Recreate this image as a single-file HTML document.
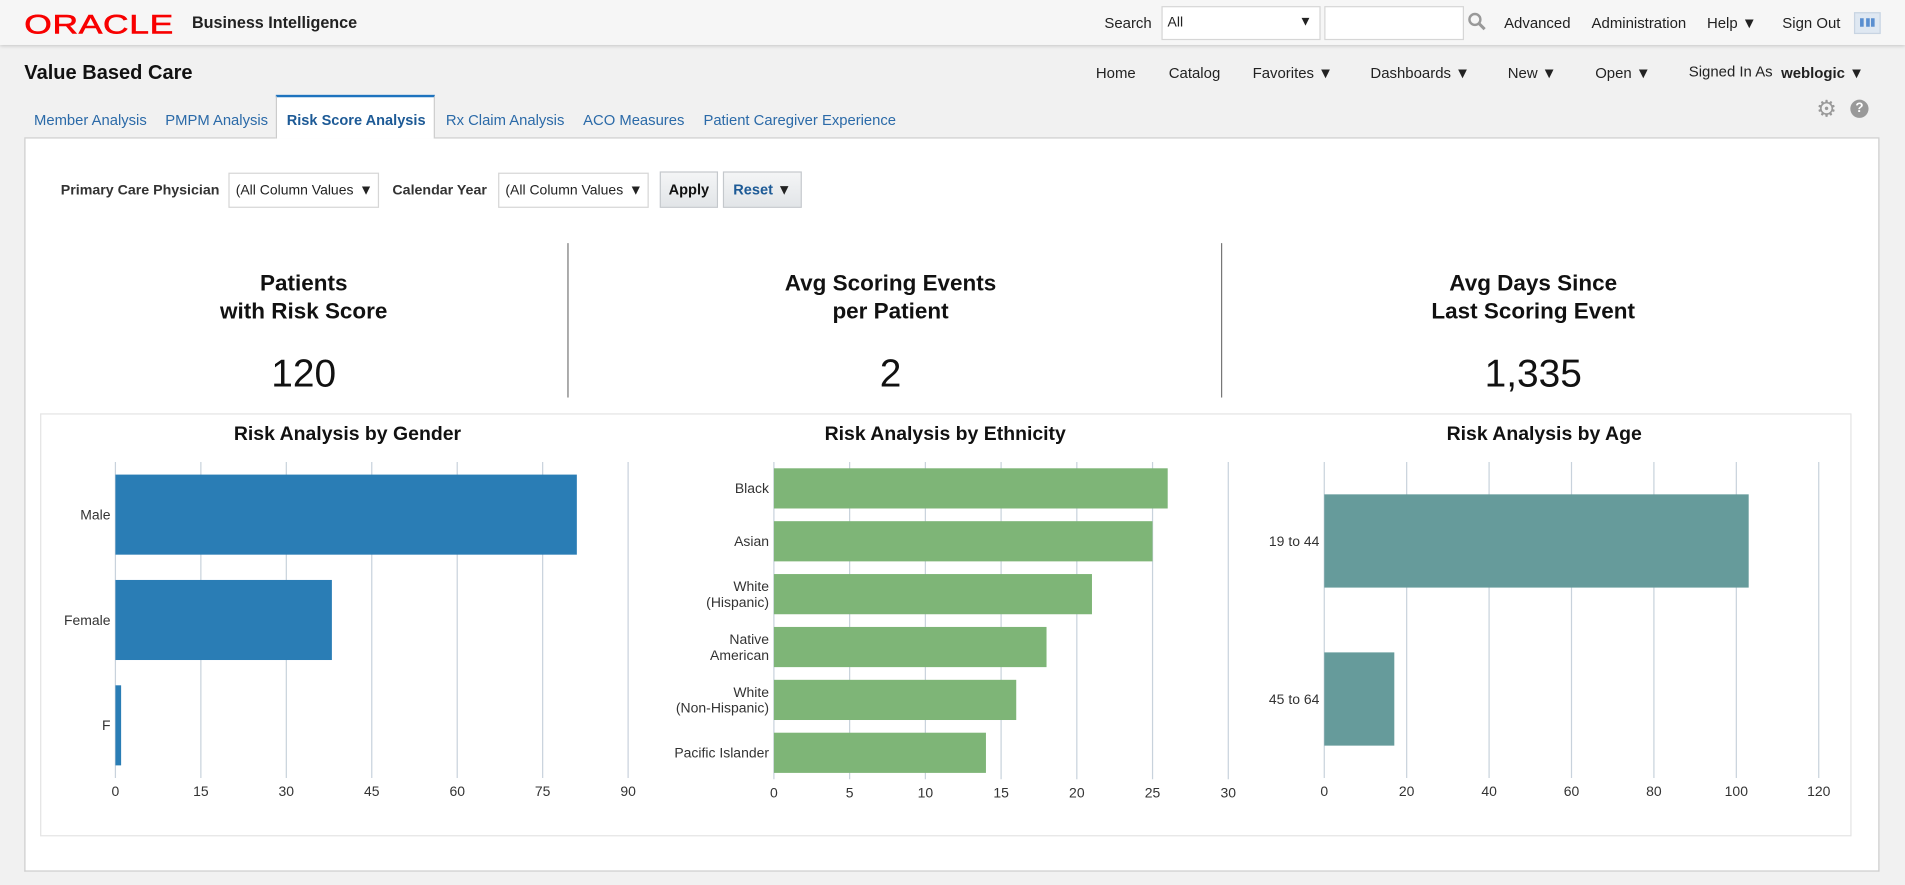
<!DOCTYPE html>
<html><head><meta charset="utf-8">
<style>
html,body{margin:0;padding:0;width:1905px;height:885px;overflow:hidden;background:#f2f2f2;font-family:"Liberation Sans",Arial,sans-serif;}
#wrap{position:absolute;left:0;top:0;width:1568px;height:728px;transform:scale(1.21492,1.21566);transform-origin:0 0;background:#f1f1f1;}
.abs{position:absolute;white-space:nowrap;}
.hdr{position:absolute;left:0;top:0;width:1568px;height:37px;background:#f6f6f6;box-shadow:0 1px 3px rgba(0,0,0,0.18);}
.t13{font-size:12.3px;color:#222;}
.tab{position:absolute;top:92px;font-size:12.2px;color:#2b6aa8;}
.sel{position:absolute;background:#fff;border:1px solid #d6d6d6;font-size:11.5px;color:#222;}
.kt{position:absolute;width:400px;text-align:center;font-weight:bold;font-size:18.5px;color:#111;line-height:23px;}
.kn{position:absolute;width:400px;text-align:center;font-size:32px;color:#111;}
.ct{position:absolute;font-weight:bold;font-size:16px;color:#111;width:400px;text-align:center;}
</style></head><body>
<div id="wrap">
<div class="hdr"></div>
<div class="abs" style="left:20px;top:5px;font-size:26px;color:#f80000;letter-spacing:0.5px;-webkit-text-stroke:0.6px #f80000;transform:scale(1.12,0.85);transform-origin:0 50%;">ORACLE</div>
<div class="abs" style="left:158px;top:11px;font-size:13.3px;font-weight:bold;color:#222;">Business Intelligence</div>
<div class="abs t13" style="left:909px;top:12px;">Search</div>
<div class="sel" style="left:956px;top:5px;width:129px;height:26px;"><span style="position:absolute;left:4px;top:7px;">All</span><span style="position:absolute;right:6px;top:6px;font-size:11px;">▼</span></div>
<div class="sel" style="left:1090px;top:5px;width:113px;height:26px;"></div>
<svg class="abs" style="left:1208px;top:10px" width="16" height="16"><circle cx="6" cy="6" r="4.5" stroke="#999" stroke-width="2" fill="none"/><line x1="9" y1="9" x2="14" y2="14" stroke="#999" stroke-width="2.5"/></svg>
<div class="abs t13" style="left:1238px;top:12px;">Advanced</div>
<div class="abs t13" style="left:1310px;top:12px;">Administration</div>
<div class="abs t13" style="left:1405px;top:12px;">Help ▼</div>
<div class="abs t13" style="left:1467px;top:12px;">Sign Out</div>
<div class="abs" style="left:1526px;top:10px;width:20px;height:16px;background:#dfe8f2;border:1px solid #c8d4e2;"><div style="position:absolute;left:4px;top:4px;width:12px;height:7px;border-left:3px solid #5a8fd0;border-right:3px solid #5a8fd0;box-sizing:border-box;"></div><div style="position:absolute;left:9px;top:4px;width:3px;height:7px;background:#5a8fd0;"></div></div>

<div class="abs" style="left:20px;top:51px;font-size:16.5px;font-weight:bold;color:#111;">Value Based Care</div>
<div class="abs t13" style="left:902px;top:53px;">Home</div>
<div class="abs t13" style="left:962px;top:53px;">Catalog</div>
<div class="abs t13" style="left:1031px;top:53px;">Favorites ▼</div>
<div class="abs t13" style="left:1128px;top:53px;">Dashboards ▼</div>
<div class="abs t13" style="left:1241px;top:53px;">New ▼</div>
<div class="abs t13" style="left:1313px;top:53px;">Open ▼</div>
<div class="abs t13" style="left:1390px;top:52px;">Signed In As</div>
<div class="abs t13" style="left:1466px;top:53px;font-weight:bold;">weblogic ▼</div>

<div class="abs" style="left:20px;top:113px;width:1527px;height:1px;background:#ccc;"></div>
<div class="abs" style="left:227px;top:78px;width:131px;height:36px;background:#fff;border:1px solid #ccc;border-bottom:none;border-top:2px solid #1e73be;box-sizing:border-box;"></div>
<div class="tab" style="left:28px;">Member Analysis</div>
<div class="tab" style="left:136px;">PMPM Analysis</div>
<div class="tab" style="left:236px;font-weight:bold;color:#1d5a96;font-size:12px;">Risk Score Analysis</div>
<div class="tab" style="left:367px;">Rx Claim Analysis</div>
<div class="tab" style="left:480px;">ACO Measures</div>
<div class="tab" style="left:579px;">Patient Caregiver Experience</div>
<div class="abs" style="left:1495px;top:79px;font-size:19px;color:#999;">⚙</div>
<div class="abs" style="left:1523px;top:82px;width:15px;height:15px;border-radius:50%;background:#999;color:#fff;font-size:11px;font-weight:bold;text-align:center;line-height:15px;">?</div>

<div class="abs" style="left:20px;top:114px;width:1527px;height:603px;background:#fff;border:1px solid #ccc;border-top:none;box-sizing:border-box;"></div>

<div class="abs" style="left:50px;top:150px;font-size:11.7px;font-weight:bold;color:#333;">Primary Care Physician</div>
<div class="sel" style="left:188px;top:142px;width:124px;height:29px;box-sizing:border-box;"><span style="position:absolute;left:5px;top:8px;">(All Column Values</span><span style="position:absolute;right:4px;top:8px;">▼</span></div>
<div class="abs" style="left:323px;top:150px;font-size:11.7px;font-weight:bold;color:#333;">Calendar Year</div>
<div class="sel" style="left:410px;top:142px;width:124px;height:29px;box-sizing:border-box;"><span style="position:absolute;left:5px;top:8px;">(All Column Values</span><span style="position:absolute;right:4px;top:8px;">▼</span></div>
<div class="abs" style="left:543px;top:141px;width:48px;height:30px;box-sizing:border-box;border:1px solid #c4c8cc;background:linear-gradient(#f4f5f6,#e2e5e8);font-size:12px;font-weight:bold;color:#111;text-align:center;line-height:28px;">Apply</div>
<div class="abs" style="left:595px;top:141px;width:65px;height:30px;box-sizing:border-box;border:1px solid #c4c8cc;background:linear-gradient(#f4f5f6,#e2e5e8);font-size:12px;font-weight:bold;color:#1d5a96;text-align:center;line-height:28px;">Reset <span style="color:#222">▼</span></div>

<div class="kt" style="left:50px;top:221px;">Patients<br>with Risk Score</div>
<div class="kn" style="left:50px;top:289px;">120</div>
<div class="abs" style="left:467px;top:200px;width:1px;height:127px;background:#777;"></div>
<div class="kt" style="left:533px;top:221px;">Avg Scoring Events<br>per Patient</div>
<div class="kn" style="left:533px;top:289px;">2</div>
<div class="abs" style="left:1005px;top:200px;width:1px;height:127px;background:#777;"></div>
<div class="kt" style="left:1062px;top:221px;">Avg Days Since<br>Last Scoring Event</div>
<div class="kn" style="left:1062px;top:289px;">1,335</div>

<div class="abs" style="left:33px;top:340px;width:1491px;height:348px;border:1px solid #e4e4e4;box-sizing:border-box;"></div>
<div class="ct" style="left:86px;top:349px;">Risk Analysis by Gender</div>
<div class="ct" style="left:578px;top:349px;">Risk Analysis by Ethnicity</div>
<div class="ct" style="left:1071px;top:349px;">Risk Analysis by Age</div>

<svg id="charts" class="abs" style="left:0;top:0" width="1568" height="728"></svg>
</div>
<script>
const genderCats=["Male","Female","F"];
const genderVals=[81,38,1];
const genderTicks=[0,15,30,45,60,75,90];
const ethCats=[["Black"],["Asian"],["White","(Hispanic)"],["Native","American"],["White","(Non-Hispanic)"],["Pacific Islander"]];
const ethVals=[26,25,21,18,16,14];
const ethTicks=[0,5,10,15,20,25,30];
const ageCats=["19 to 44","45 to 64"];
const ageVals=[103,17];
const ageTicks=[0,20,40,60,80,100,120];

const NS="http://www.w3.org/2000/svg";
const svg=document.getElementById('charts');
function mk(t,a){const e=document.createElementNS(NS,t);for(const k in a)e.setAttribute(k,a[k]);svg.appendChild(e);return e;}
function chart(name,cats,vals,ticks,x0,x1,y0,y1,frac,color){
  const max=ticks[ticks.length-1];
  const xs=v=>x0+(v/max)*(x1-x0);
  const band=(y1-y0)/cats.length;
  ticks.forEach(t=>{
    const l=mk('line',{x1:xs(t),x2:xs(t),y1:y0,y2:y1,stroke:'#c8d2dc','stroke-width':1});
    
    
    const tx=mk('text',{x:xs(t),y:y1+15,'text-anchor':'middle','font-size':11.5,fill:'#333','font-family':'Liberation Sans, sans-serif'});
    tx.textContent=t;
    
    
  });
  cats.forEach((c,i)=>{
    const h=band*frac, cy=y0+band*(i+0.5);
    const r=mk('rect',{x:x0,y:cy-h/2,width:xs(vals[i])-x0,height:h,fill:color});
    
    
    const lines=Array.isArray(c)?c:[c];
    lines.forEach((ln,j)=>{
      const tx=mk('text',{x:x0-4,y:cy+4+(j-(lines.length-1)/2)*13,'text-anchor':'end','font-size':11.5,fill:'#333','font-family':'Liberation Sans, sans-serif'});
      tx.textContent=ln;
      
      
    });
  });
}
chart('gender',genderCats,genderVals,genderTicks,95,517,380,640,0.76,'#2a7db5');
chart('ethnicity',ethCats,ethVals,ethTicks,637,1011,380,641,0.76,'#7eb577');
chart('age',ageCats,ageVals,ageTicks,1090,1497,380,640,0.59,'#669b9b');
</script>
</body></html>
